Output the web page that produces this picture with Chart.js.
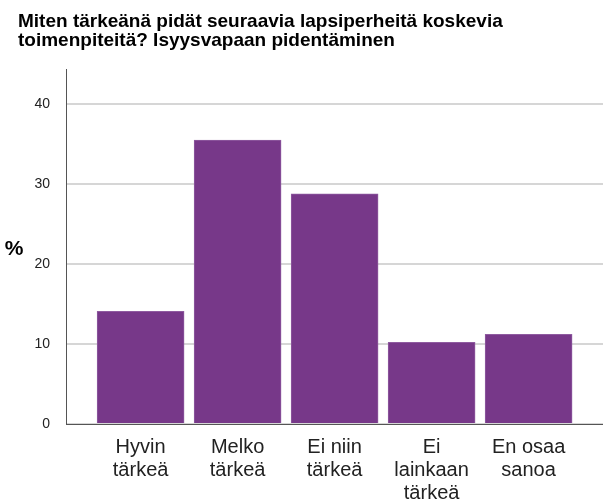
<!DOCTYPE html>
<html>
<head>
<meta charset="utf-8">
<script src="https://cdn.jsdelivr.net/npm/chart.js@4"></script>
<style>
  html, body { margin: 0; padding: 0; background: #fff; }
  canvas { display: block; }
</style>
</head>
<body>
<canvas id="chart" width="603" height="502"></canvas>
<script>
const titleLines = ['Miten tärkeänä pidät seuraavia lapsiperheitä koskevia', 'toimenpiteitä? Isyysvapaan pidentäminen'];
const categories = [
  ['Hyvin', 'tärkeä'],
  ['Melko', 'tärkeä'],
  ['Ei niin', 'tärkeä'],
  ['Ei', 'lainkaan', 'tärkeä'],
  ['En osaa', 'sanoa']
];
const percents = [14.1, 35.5, 28.8, 10.2, 11.2];
const yTicks = [0, 10, 20, 30, 40];
const yLabel = '%';

const FONT = "'Liberation Sans', Arial, sans-serif";
const BAR = '#773889';

// horizontal "%" beside the value axis
const sideLabel = {
  id: 'sideLabel',
  afterDraw(chart) {
    const { ctx, chartArea } = chart;
    ctx.save();
    ctx.font = 'bold 21px ' + FONT;
    ctx.fillStyle = '#000';
    ctx.textAlign = 'center';
    ctx.textBaseline = 'middle';
    ctx.fillText(yLabel, 14, (chartArea.top + chartArea.bottom) / 2 + 3);
    ctx.restore();
  }
};

new Chart(document.getElementById('chart'), {
  type: 'bar',
  data: {
    datasets: [{
      data: percents.map((v, i) => ({ x: i, y: v })),
      backgroundColor: BAR,
      borderColor: '#8f5ba0',
      borderWidth: 1,
      borderSkipped: 'bottom',
      barThickness: 87
    }]
  },
  options: {
    responsive: false,
    animation: false,
    events: [],
    layout: { padding: { left: 18, right: 0, top: 0, bottom: 0 } },
    plugins: {
      legend: { display: false },
      tooltip: { enabled: false },
      title: {
        display: true,
        text: titleLines,
        align: 'start',
        color: '#000',
        font: { family: FONT, size: 19, weight: 'bold', lineHeight: 1.0 },
        padding: { top: 12, bottom: 19 }
      }
    },
    scales: {
      x: {
        type: 'linear',
        offset: false,
        min: -0.769,
        max: 4.767,
        afterBuildTicks: s => { s.ticks = categories.map((_, i) => ({ value: i })); },
        afterFit: s => { s.height = 78; },
        grid: { display: false, drawTicks: false, offset: false },
        border: { display: true, color: '#555', width: 1 },
        ticks: {
          autoSkip: false,
          maxRotation: 0,
          padding: 12,
          color: '#222',
          font: { family: FONT, size: 20, lineHeight: 1.15 },
          callback: v => categories[v]
        }
      },
      y: {
        min: 0,
        max: 44.4,
        afterBuildTicks: s => { s.ticks = yTicks.map(v => ({ value: v })); },
        afterFit: s => { s.width = 48; },
        grid: { color: '#d6d6d6', lineWidth: 2, drawTicks: false },
        border: { display: true, color: '#555', width: 1 },
        ticks: {
          padding: 16,
          color: '#222',
          font: { family: FONT, size: 14 }
        }
      }
    }
  },
  plugins: [sideLabel]
});
</script>
</body>
</html>
